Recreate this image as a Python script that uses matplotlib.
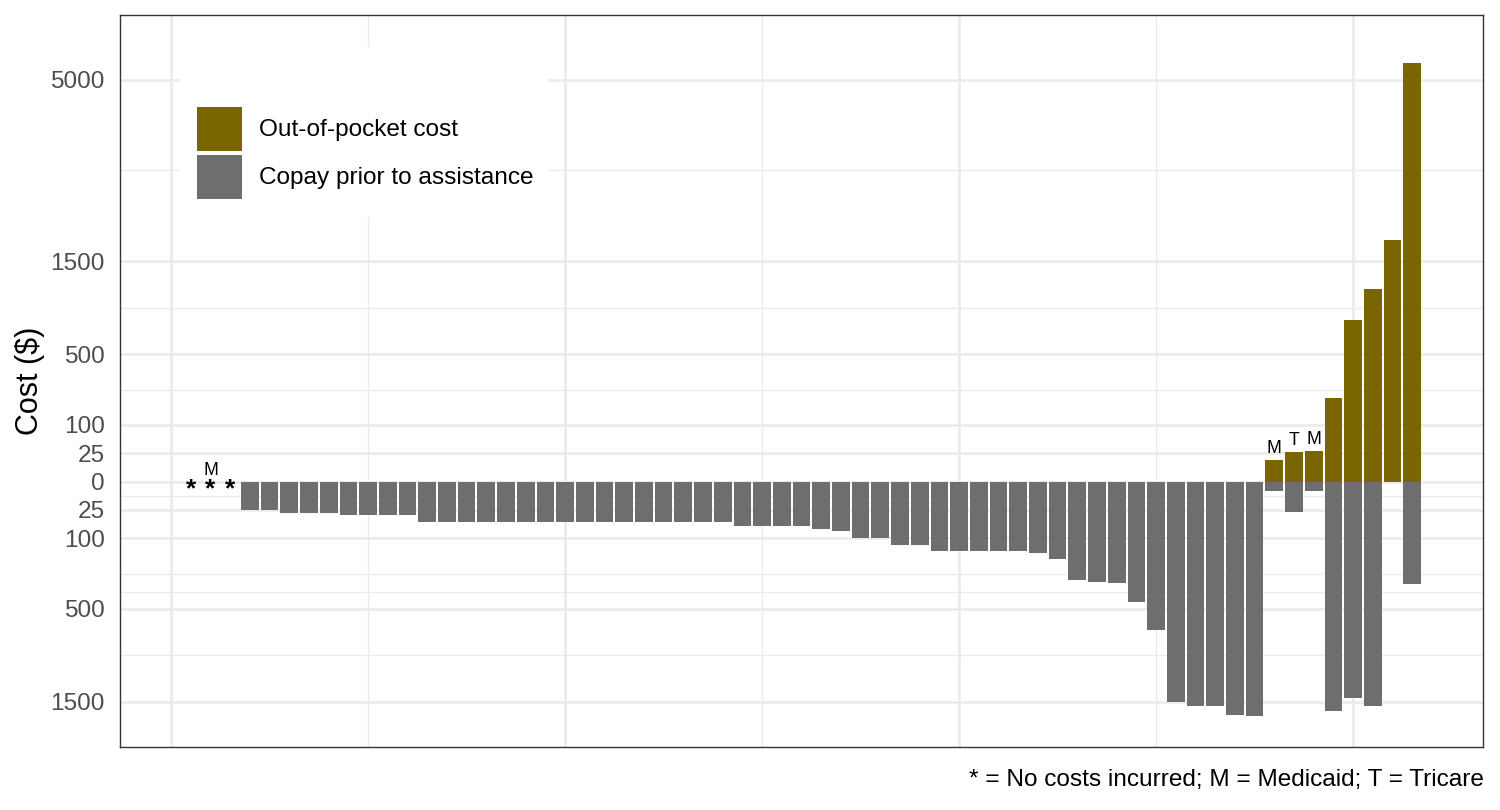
import numpy as np
import matplotlib
matplotlib.use("Agg")
import matplotlib.pyplot as plt
from matplotlib.patches import Rectangle
from matplotlib.ticker import FixedLocator, NullFormatter

plt.rcParams["font.family"] = ["Liberation Sans", "DejaVu Sans"]

# one bar per patient, sorted by cost
patients = list(range(1, 64))

# copay prior to assistance ($), drawn downward
copay = [0, 0, 0, 25, 25, 30, 30, 30, 35, 35, 35, 35,
         50, 50, 50, 50, 50, 50, 50, 50, 50, 50, 50, 50, 50, 50, 50, 50,
         60, 60, 60, 60, 70, 75, 100, 100, 125, 125,
         150, 150, 150, 150, 150, 160, 185, 300, 310, 320, 450, 680,
         1510, 1560, 1560, 1690, 1700,
         3, 28, 3, 1630, 1445, 1560, 0, 325]

# out-of-pocket cost ($), drawn upward
out_of_pocket = [0] * 55 + [14, 27, 29, 217, 807, 1150, 1805, 5430]

# insurance markers
label_patients = [2, 56, 57, 58]
label_text = ["M", "M", "T", "M"]

y_breaks = [-1500, -500, -100, -25, 0, 25, 100, 500, 1500, 5000]
y_labels = ["1500", "500", "100", "25", "0", "25", "100", "500", "1500", "5000"]
# pairs of breaks whose (sqrt-space) midpoints carry a minor grid line
minor_pairs = [(5000, 1500), (1500, 500), (500, 100), (0, -25),
               (-100, -500), (-500, -1500), (-1500, 0)]

OLIVE = "#7A6500"
GRAY = "#6E6E6E"
GRID = "#EBEBEB"
BAR_WIDTH = 0.9


def ssqrt(v):
    v = np.asarray(v, dtype=float)
    return np.sign(v) * np.sqrt(np.abs(v))


def ssq(v):
    v = np.asarray(v, dtype=float)
    return np.sign(v) * v ** 2


fig = plt.figure(figsize=(15, 8.1), dpi=100)
ax = fig.add_axes([120 / 1500, 63 / 810, 1363 / 1500, 732 / 810])
ax.set_yscale("function", functions=(ssqrt, ssq))

oop_bars = ax.bar(patients, out_of_pocket, width=BAR_WIDTH, color=OLIVE,
                  label="Out-of-pocket cost", zorder=2)
copay_bars = ax.bar(patients, [-c for c in copay], width=BAR_WIDTH, color=GRAY,
                    label="Copay prior to assistance", zorder=2)

# patients with no costs at all
for p, c, o in zip(patients, copay, out_of_pocket):
    if c == 0 and o == 0:
        ax.annotate("*", (p, 0), xytext=(0, -5.5), textcoords="offset points",
                    ha="center", va="center", fontsize=19, fontweight="bold",
                    color="black", zorder=3)

for p, t in zip(label_patients, label_text):
    ax.annotate(t, (p, out_of_pocket[p - 1]), xytext=(0, 5),
                textcoords="offset points", ha="center", va="baseline",
                fontsize=12.8, color="black", zorder=3)

# axes limits (ggplot-like 5% expansion on x)
lo, hi = min(patients) - BAR_WIDTH / 2, max(patients) + BAR_WIDTH / 2
pad = 0.05 * (hi - lo)
ax.set_xlim(lo - pad, hi + pad)
ax.set_ylim(-2180, 6735)

ax.yaxis.set_major_locator(FixedLocator(y_breaks))
ax.set_yticklabels(y_labels)
minor_y = [float(ssq((ssqrt(a) + ssqrt(b)) / 2)) for a, b in minor_pairs]
ax.yaxis.set_minor_locator(FixedLocator(minor_y))
ax.yaxis.set_minor_formatter(NullFormatter())

ax.xaxis.set_major_locator(FixedLocator([0, 20, 40, 60]))
ax.xaxis.set_minor_locator(FixedLocator([10, 30, 50]))
ax.xaxis.set_major_formatter(NullFormatter())
ax.xaxis.set_minor_formatter(NullFormatter())

ax.tick_params(which="both", length=0)
ax.tick_params(axis="y", labelsize=17.6, labelcolor="#4D4D4D", pad=11)

ax.set_axisbelow(True)
ax.grid(which="major", color=GRID, linewidth=1.9)
ax.grid(which="minor", color=GRID, linewidth=1.0)
for s in ax.spines.values():
    s.set_color("#333333")
    s.set_linewidth(1.0)

ax.set_ylabel("Cost ($)", fontsize=22, color="black")
ax.yaxis.label.set_va("center")
ax.yaxis.set_label_coords(-0.066, 0.5)

# legend on a white box inside the panel
ax.add_patch(Rectangle((60 / 1363, 530 / 732), 368 / 1363, 170 / 732,
                       transform=ax.transAxes, facecolor="white",
                       edgecolor="none", zorder=1))
ax.legend(handles=[oop_bars, copay_bars], loc="upper left",
          bbox_to_anchor=(77 / 1363, 640 / 732), frameon=False,
          fontsize=17.6, handlelength=1.84, handleheight=2.37,
          labelspacing=0.18, handletextpad=0.7, borderpad=0, borderaxespad=0)

fig.text(1484 / 1500, 1 - 780 / 810,
         "* = No costs incurred; M = Medicaid; T = Tricare",
         ha="right", va="center", fontsize=17.6, color="black")

fig.savefig("out.png", dpi=100)
